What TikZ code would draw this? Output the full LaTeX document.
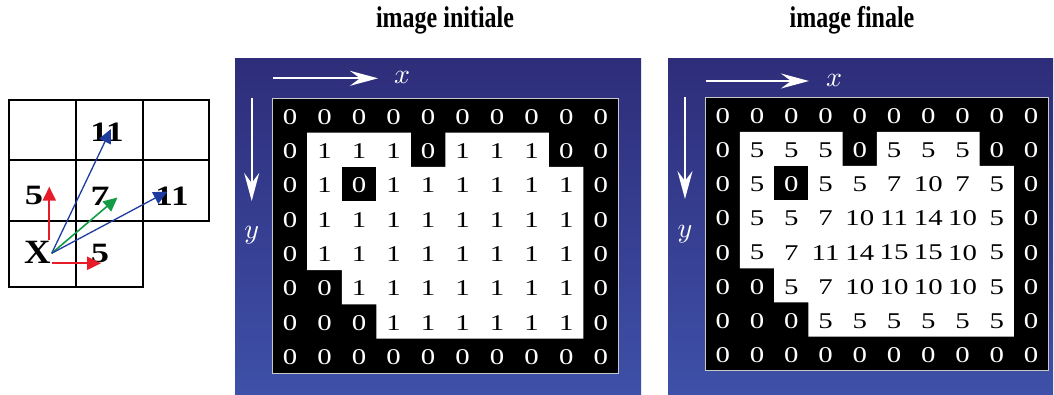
\documentclass[tikz,border=0pt]{standalone}
\usepackage{graphicx}
\usepackage{fontspec}
\setmainfont{Liberation Serif}
\usetikzlibrary{arrows.meta}
\definecolor{bgtop}{RGB}{46,45,122}
\definecolor{bgbot}{RGB}{62,80,168}
\definecolor{arrred}{RGB}{232,28,40}
\definecolor{arrgreen}{RGB}{20,155,70}
\definecolor{arrblue}{RGB}{30,60,160}
\definecolor{rimgray}{RGB}{200,200,200}
\newcommand\drawpanel[6]{%
  \begin{scope}[shift={(#2pt,-#3pt)}, x=#4pt, y=-#5pt]
    \fill[black] (0,0) rectangle (10,8);
    \fill[white] (1,1) -- (4,1) -- (4,2) -- (5,2) -- (5,1) -- (8,1) -- (8,2) -- (9,2)
      -- (9,7) -- (3,7) -- (3,6) -- (2,6) -- (2,5) -- (1,5) -- cycle;
    \fill[black] (2,2) rectangle (3,3);
    \draw[rimgray, line width=0.9pt] (0,0) rectangle (10,8);
    \foreach \rowvals [count=\r from 0] in {#6} {
      \foreach \v [count=\c from 0] in \rowvals {
        \ifnum\v=0 \def\tc{white}\else\def\tc{black}\fi
        \node[val, text=\tc] (#1-\r-\c) at (\c+0.5,\r+0.54) {\scalebox{1.28}[1]{\v}};
      }
    }
  \end{scope}}
\begin{document}
\begin{tikzpicture}[x=1pt,y=-1pt,
  gridline/.style={line width=2pt, black, line join=miter},
  lbl/.style={font=\bfseries\fontsize{28}{30}\selectfont, inner sep=0pt},
  bigx/.style={font=\bfseries\fontsize{34}{36}\selectfont, inner sep=0pt},
  vec/.style={-{Triangle[length=14pt,width=13pt]}},
  panelbg/.style={top color=bgtop, bottom color=bgbot, draw=none},
  axis/.style={white, line width=2pt, -{Stealth[length=28pt,width=15pt,inset=10pt]}},
  axlbl/.style={white, inner sep=0pt},
  val/.style={font=\fontsize{22.5}{24}\selectfont, inner sep=0pt},
  title/.style={font=\bfseries\fontsize{30}{32}\selectfont, inner sep=0pt},
]
\useasboundingbox (0,0) rectangle (1054,395);
\fill[white] (0,0) rectangle (1054,395);

% ---- left neighbourhood grid ----
\foreach \x/\y/\xx/\yy in {9/100/76/160, 76/100/143/160, 143/100/209/160,
                          9/160/76/221, 76/160/143/221, 143/160/209/221,
                          9/221/76/287, 76/221/143/287}
  \draw[gridline] (\x,\y) rectangle (\xx,\yy);

\node[lbl] (n11top) at (107,132) {\scalebox{1.25}[1]{11}};
\node[lbl] (n5left) at (34,195) {\scalebox{1.3}[1]{5}};
\node[lbl] (n7) at (100,196) {\scalebox{1.35}[1]{7}};
\node[lbl] (n11right) at (172,196) {\scalebox{1.25}[1]{11}};
\node[bigx] (nX) at (37.5,252.5) {\scalebox{1.08}[1]{X}};
\node[lbl] (n5bot) at (100,253) {\scalebox{1.3}[1]{5}};

\coordinate (o) at (51.7,253.3);
\coordinate (ru0) at (49.3,240);
\coordinate (ru1) at (49.3,186.7);
\coordinate (rr0) at (51.7,263.3);
\coordinate (rr1) at (101,263.3);
\coordinate (tA) at (111,129);
\coordinate (tG) at (117.5,197.5);
\coordinate (tB) at (167.5,191.5);

\draw[vec, arrred, line width=2.2pt] (ru0) -- (ru1);
\draw[vec, arrred, line width=2.2pt] (rr0) -- (rr1);
\draw[vec, arrblue, line width=1.3pt] (o) -- (tA);
\draw[vec, arrgreen, line width=1.6pt] (o) -- (tG);
\draw[vec, arrblue, line width=1.3pt] (o) -- (tB);

% ---- titles ----
\node[title] (t1) at (445,20) {\scalebox{0.8}[1]{image initiale}};
\node[title] (t2) at (852,20) {\scalebox{0.8}[1]{image finale}};

% ---- panel backgrounds ----
\fill[panelbg] (235,59) rectangle (641,394);
\fill[panelbg] (668,59) rectangle (1053,394);

% ---- axes ----
\coordinate (ax1a) at (272.7,78.3);
\coordinate (ax1b) at (378,78.3);
\coordinate (ay1a) at (251.7,98);
\coordinate (ay1b) at (251.7,201);
\node[axlbl] (lx1) at (402,77) {\scalebox{2.8}{$x$}};
\node[axlbl] (ly1) at (251.7,235) {\scalebox{2.8}{$y$}};
\draw[axis] (ax1a) -- (ax1b);
\draw[axis] (ay1a) -- (ay1b);

\coordinate (ax2a) at (705.7,81);
\coordinate (ax2b) at (809,81);
\coordinate (ay2a) at (685,97);
\coordinate (ay2b) at (685,199);
\node[axlbl] (lx2) at (834,80) {\scalebox{2.8}{$x$}};
\node[axlbl] (ly2) at (685,234) {\scalebox{2.8}{$y$}};
\draw[axis] (ax2a) -- (ax2b);
\draw[axis] (ay2a) -- (ay2b);

% ---- grids ----
\drawpanel{A}{272.7}{98.3}{34.53}{34.34}{%
{0,0,0,0,0,0,0,0,0,0},
{0,1,1,1,0,1,1,1,0,0},
{0,1,0,1,1,1,1,1,1,0},
{0,1,1,1,1,1,1,1,1,0},
{0,1,1,1,1,1,1,1,1,0},
{0,0,1,1,1,1,1,1,1,0},
{0,0,0,1,1,1,1,1,1,0},
{0,0,0,0,0,0,0,0,0,0}}
\drawpanel{B}{705.7}{97.7}{34.25}{34.13}{%
{0,0,0,0,0,0,0,0,0,0},
{0,5,5,5,0,5,5,5,0,0},
{0,5,0,5,5,7,10,7,5,0},
{0,5,5,7,10,11,14,10,5,0},
{0,5,7,11,14,15,15,10,5,0},
{0,0,5,7,10,10,10,10,5,0},
{0,0,0,5,5,5,5,5,5,0},
{0,0,0,0,0,0,0,0,0,0}}
\end{tikzpicture}
\end{document}
